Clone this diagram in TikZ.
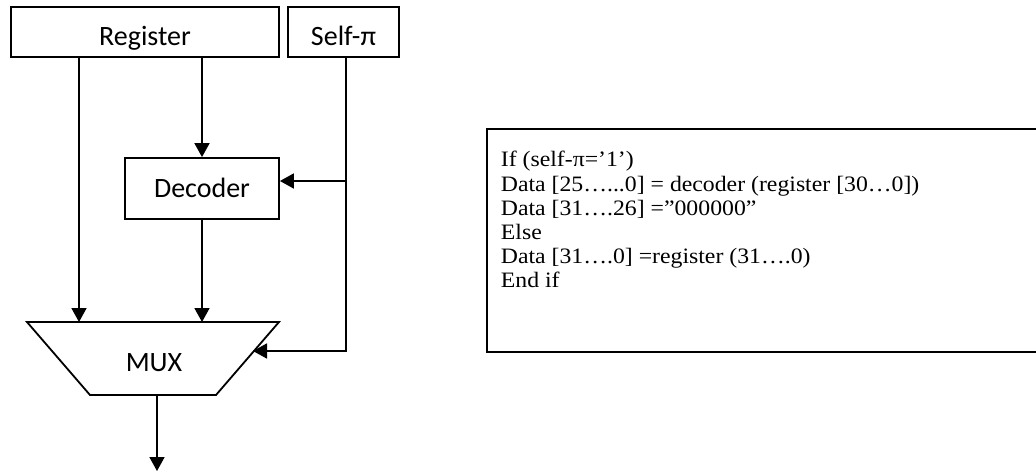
\documentclass[tikz,border=0pt]{standalone}
\usepackage{fontspec}
\usepackage{tikz}
\usetikzlibrary{arrows.meta,positioning}
\newfontfamily\boxfont{Carlito}
\newfontfamily\codefont[FakeStretch=1.08]{Liberation Serif}

\begin{document}
\begin{tikzpicture}[x=1pt,y=-1pt, line width=1.8pt,
box/.style={draw,inner sep=0pt,font=\fontsize{28}{33}\selectfont\boxfont,text depth=0pt},
arrow/.style={-{Triangle[length=14pt,width=15pt]},line width=1.8pt}]
\useasboundingbox (0,0) rectangle (1036,472);
\node[box,minimum width=268pt,minimum height=50pt,text height=26pt] (reg) at (145,32) {Register};
\node[box,minimum width=111pt,minimum height=50pt,text height=26pt] (self) at (343.5,32) {Self-π};
\node[box,minimum width=154pt,minimum height=61pt,text height=17pt] (dec) at (202,188.5) {Decoder};
% mux outline
\coordinate (mtl) at (27,322);\coordinate (mtr) at (279,322);
\coordinate (mbr) at (216,395);\coordinate (mbl) at (90,395);
\draw (mtl)--(mtr)--(mbr)--(mbl)--cycle;
\node[anchor=base,inner sep=0pt,font=\fontsize{28}{33}\selectfont\boxfont] (mux) at (154,371) {MUX};
\coordinate (inA) at (79,322);\coordinate (inB) at (202,322);
\coordinate (sel) at (253,351);\coordinate (tap) at (346,181);\coordinate (corner) at (346,351);
\coordinate (out) at (157,395);\coordinate (outend) at (157,471);
\draw[arrow] (reg.south -| inA)--(inA);\draw[arrow] (reg.south -| dec.north)--(dec.north);
\draw[arrow] (dec.south)--(inB);
\draw[arrow] (self.south -| tap)--(corner)--(sel);\draw[arrow] (tap)--(dec.east |- tap);
\draw[arrow] (out)--(outend);
% code box
\draw (487,129) rectangle (1045,352);
\node[anchor=north west,inner sep=0pt,align=left,font=\fontsize{22}{24.2}\selectfont\codefont] (code) at (500,150.5)
{If (self-π=’1’)\\Data [25…...0] = decoder (register [30…0])\\Data [31….26] =”000000”\\Else\\Data [31….0] =register (31….0)\\End if};
\end{tikzpicture}
\end{document}
